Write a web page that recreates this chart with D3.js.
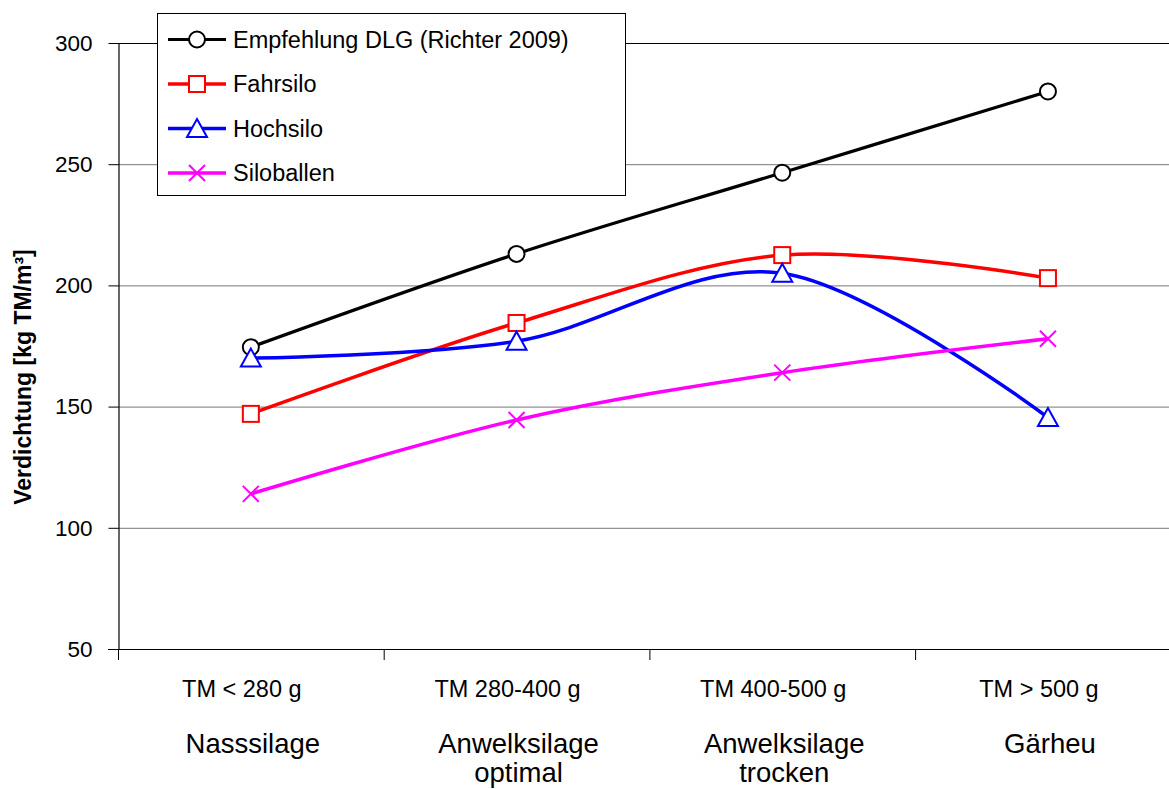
<!DOCTYPE html>
<html>
<head>
<meta charset="utf-8">
<script src="https://cdn.jsdelivr.net/npm/d3@7/dist/d3.min.js"></script>
<style>
  html, body { margin: 0; padding: 0; background: #fff; }
  svg { display: block; font-family: Arial, "Liberation Sans", sans-serif; }
</style>
</head>
<body>
<svg id="chart" width="1169" height="789"></svg>
<script>
// ---- data ----
const tmLabels = ["TM < 280 g", "TM 280-400 g", "TM 400-500 g", "TM > 500 g"];
const categoryNames = [["Nasssilage"], ["Anwelksilage", "optimal"], ["Anwelksilage", "trocken"], ["Gärheu"]];
const yTicks = [50, 100, 150, 200, 250, 300];
const seriesNames = ["Empfehlung DLG (Richter 2009)", "Fahrsilo", "Hochsilo", "Siloballen"];
const dlgValues = [174.5, 213, 246.5, 280];
const fahrsiloValues = [147, 184.5, 212.5, 203];
const hochsiloValues = [170, 177, 205, 145.5];
const siloballenValues = [114, 144.5, 164, 178];
const yTitle = "Verdichtung [kg TM/m³]";

// ---- setup ----
const svg = d3.select("#chart");
const plotLeft = 118, plotTop = 43, plotBottom = 649, bandStep = 265.7;
const x = d3.scaleBand().domain(tmLabels).range([plotLeft, plotLeft + bandStep * tmLabels.length]).paddingInner(0).paddingOuter(0);
const y = d3.scaleLinear().domain([50, 300]).range([plotBottom, plotTop]);
const cx = d => x(d) + x.bandwidth() / 2;

// gridlines
svg.append("g").selectAll("line").data(yTicks.filter(v => v > 50)).join("line")
  .attr("x1", plotLeft).attr("x2", 1169)
  .attr("y1", d => y(d) + 0.5).attr("y2", d => y(d) + 0.5)
  .attr("stroke", d => d === 300 ? "#000" : "#777").attr("stroke-width", 1);

// y axis
const yAxis = svg.append("g").attr("transform", `translate(${plotLeft + 0.5},0)`)
  .call(d3.axisLeft(y).tickValues(yTicks).tickSize(10).tickSizeOuter(0).tickPadding(16));
yAxis.select(".domain").attr("stroke", "#000").attr("stroke-width", 1.2);
yAxis.selectAll(".tick line").attr("stroke", "#000");
yAxis.selectAll(".tick text").attr("font-size", 22.5).attr("fill", "#000")
  .attr("font-family", "Arial, 'Liberation Sans', sans-serif");

// x axis line + ticks between categories
svg.append("line").attr("x1", plotLeft - 10).attr("x2", 1169)
  .attr("y1", plotBottom + 0.5).attr("y2", plotBottom + 0.5).attr("stroke", "#000").attr("stroke-width", 1.2);
svg.append("g").selectAll("line").data(tmLabels).join("line")
  .attr("x1", d => x(d) + 0.5).attr("x2", d => x(d) + 0.5)
  .attr("y1", plotBottom).attr("y2", plotBottom + 11).attr("stroke", "#000");

// x labels
svg.append("g").selectAll("text").data(tmLabels).join("text")
  .attr("x", d => cx(d) - 9).attr("y", 697)
  .attr("text-anchor", "middle").attr("font-size", 23.5).text(d => d);
const catG = svg.append("g");
categoryNames.forEach((lines, i) => {
  lines.forEach((t, j) => {
    catG.append("text").attr("x", cx(tmLabels[i]) + 2).attr("y", 753 + j * 29)
      .attr("text-anchor", "middle").attr("font-size", 27.5).text(t);
  });
});

// y title
svg.append("text").attr("transform", `translate(31,377) rotate(-90)`)
  .attr("text-anchor", "middle").attr("font-size", 23).attr("font-weight", "bold").text(yTitle);

// ---- series ----
const series = [
  { name: seriesNames[0], values: dlgValues, color: "#000000", marker: "circle", width: 3.2 },
  { name: seriesNames[1], values: fahrsiloValues, color: "#ff0000", marker: "square", width: 3.5 },
  { name: seriesNames[2], values: hochsiloValues, color: "#0000ff", marker: "triangle", width: 3.5 },
  { name: seriesNames[3], values: siloballenValues, color: "#ff00ff", marker: "x", width: 3.5 }
];

function drawMarker(g, type, color, px, py) {
  if (type === "circle") {
    g.append("circle").attr("cx", px).attr("cy", py).attr("r", 8)
      .attr("fill", "#fff").attr("stroke", color).attr("stroke-width", 2);
  } else if (type === "square") {
    g.append("rect").attr("x", px - 8).attr("y", py - 8).attr("width", 16).attr("height", 16)
      .attr("fill", "#fff").attr("stroke", color).attr("stroke-width", 2);
  } else if (type === "triangle") {
    g.append("path").attr("d", `M${px},${py - 9.5}L${px + 10},${py + 8.5}L${px - 10},${py + 8.5}Z`)
      .attr("fill", "#fff").attr("stroke", color).attr("stroke-width", 2);
  } else if (type === "x") {
    g.append("path").attr("d", `M${px - 8},${py - 8}L${px + 8},${py + 8}M${px - 8},${py + 8}L${px + 8},${py - 8}`)
      .attr("fill", "none").attr("stroke", color).attr("stroke-width", 2);
  }
}

const line = d3.line().x(d => d[0]).y(d => d[1]).curve(d3.curveCardinal.tension(0));
series.forEach(s => {
  const g = svg.append("g");
  const pts = s.values.map((v, i) => [cx(tmLabels[i]), y(v)]);
  g.append("path").attr("d", line(pts)).attr("fill", "none")
    .attr("stroke", s.color).attr("stroke-width", s.width).attr("stroke-linejoin", "round");
  pts.forEach(p => drawMarker(g, s.marker, s.color, p[0], p[1]));
});

// ---- legend ----
const lg = svg.append("g");
lg.append("rect").attr("x", 157.5).attr("y", 13.5).attr("width", 468).attr("height", 182)
  .attr("fill", "#fff").attr("stroke", "#000").attr("stroke-width", 1);
const rowY = [39.5, 84, 128.5, 173];
series.forEach((s, i) => {
  lg.append("line").attr("x1", 168).attr("x2", 226).attr("y1", rowY[i]).attr("y2", rowY[i])
    .attr("stroke", s.color).attr("stroke-width", s.width);
  drawMarker(lg, s.marker, s.color, 197, rowY[i]);
  lg.append("text").attr("x", 233).attr("y", rowY[i] + 8).attr("font-size", 23.5).text(s.name);
});
</script>
</body>
</html>
